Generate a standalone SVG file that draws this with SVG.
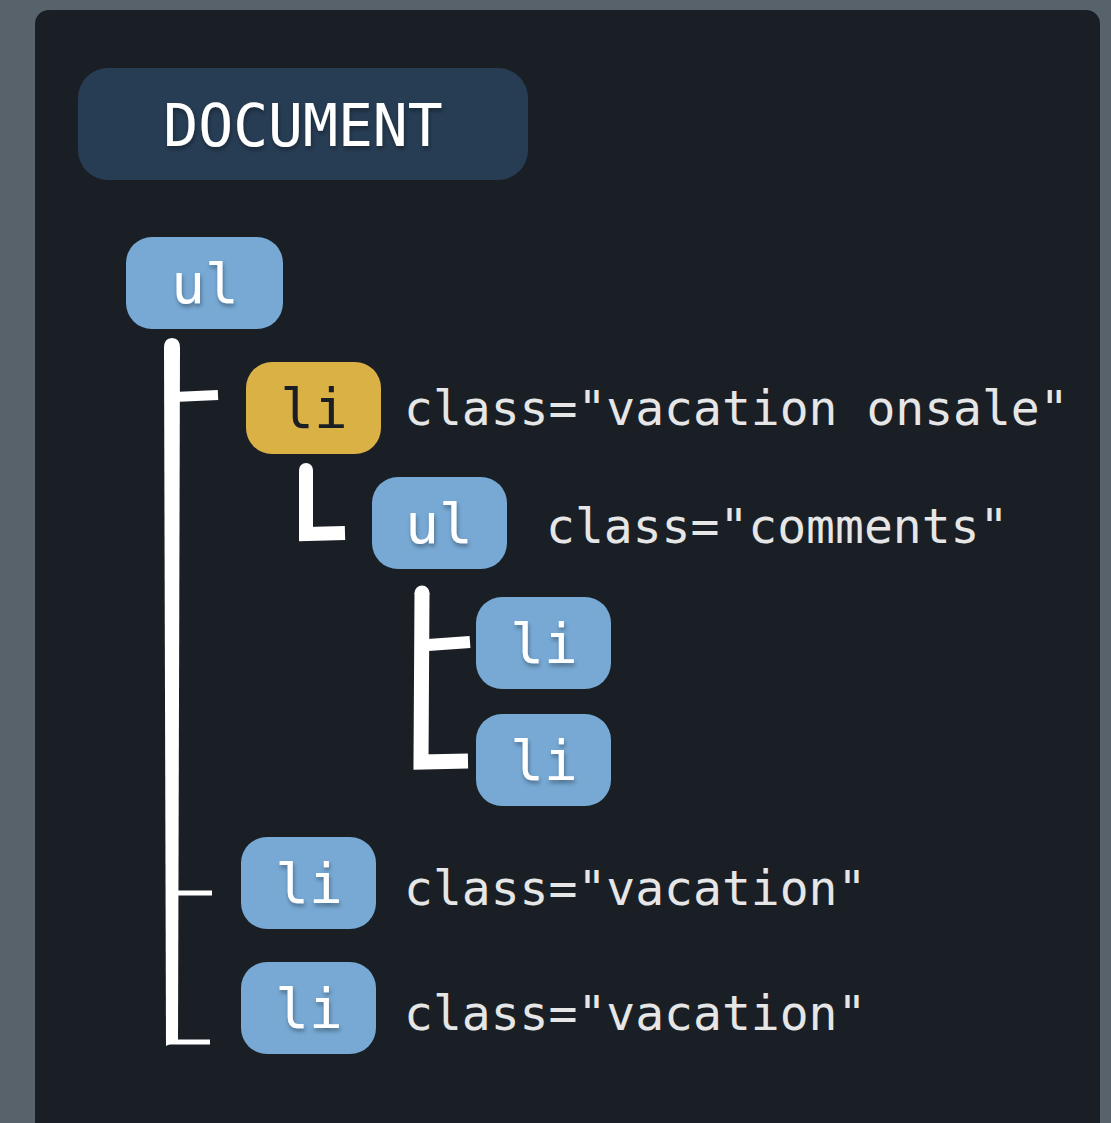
<svg xmlns="http://www.w3.org/2000/svg" width="1111" height="1123" viewBox="0 0 1111 1123">
<defs>
<style>
.node-blue{fill:#77a9d4}
.node-gold{fill:#d9b144}
.lbl{font-family:"DejaVu Sans Mono","Liberation Mono",monospace;font-size:56px;fill:#ffffff;text-anchor:middle}
.attr{font-family:"DejaVu Sans Mono","Liberation Mono",monospace;font-size:48px;fill:#e6e6e6}
.brush{fill:none;stroke:#ffffff;stroke-linecap:butt;stroke-linejoin:miter}
.cap{fill:#ffffff}
</style>
<filter id="ts" x="-20%" y="-20%" width="140%" height="150%">
<feDropShadow dx="1" dy="3" stdDeviation="2" flood-color="#000" flood-opacity="0.35"/>
</filter>
</defs>
<rect x="0" y="0" width="1111" height="1123" fill="#58626b"/>
<rect x="35" y="10" width="1065" height="1140" rx="14" fill="#1a1f26"/>

<g id="connectors">
<path class="cap" d="M164,348 Q164,338 172,338 Q180,338 180,348 L179,700 L178,1040 L166,1046 L165,700 Z"/>
<path class="brush" d="M174,397 L218,395" stroke-width="10"/>
<path class="brush" d="M174,893 L212,893" stroke-width="5"/>
<path class="brush" d="M167,1042 L210,1042" stroke-width="5"/>
<path class="brush" d="M306,470 L306,534 L345,533" stroke-width="14"/>
<circle class="cap" cx="306" cy="470" r="7"/>
<path class="brush" d="M422,593 L421,762 L468,761" stroke-width="15"/>
<circle class="cap" cx="422" cy="593" r="7.5"/>
<path class="brush" d="M428,645 L470,642" stroke-width="12"/>
</g>

<g id="document">
<rect x="78" y="68" width="450" height="112" rx="30" fill="#273d54"/>
<text class="lbl" x="303" y="146" style="font-size:58px" filter="url(#ts)">DOCUMENT</text>
</g>

<g id="ul-root">
<rect class="node-blue" x="126" y="237" width="157" height="92" rx="26"/>
<text class="lbl" x="205" y="303" filter="url(#ts)">ul</text>
</g>

<g id="li-onsale">
<rect class="node-gold" x="246" y="362" width="135" height="92" rx="26"/>
<text class="lbl" x="314" y="428" style="fill:#1a1f26">li</text>
<text class="attr" x="404" y="425">class="vacation onsale"</text>
</g>

<g id="ul-comments">
<rect class="node-blue" x="372" y="477" width="135" height="92" rx="26"/>
<text class="lbl" x="439" y="543" filter="url(#ts)">ul</text>
<text class="attr" x="546" y="543">class="comments"</text>
</g>

<g id="li-comment-1">
<rect class="node-blue" x="476" y="597" width="135" height="92" rx="26"/>
<text class="lbl" x="544" y="663" filter="url(#ts)">li</text>
</g>

<g id="li-comment-2">
<rect class="node-blue" x="476" y="714" width="135" height="92" rx="26"/>
<text class="lbl" x="544" y="780" filter="url(#ts)">li</text>
</g>

<g id="li-vacation-1">
<rect class="node-blue" x="241" y="837" width="135" height="92" rx="26"/>
<text class="lbl" x="309" y="903" filter="url(#ts)">li</text>
<text class="attr" x="404" y="905">class="vacation"</text>
</g>

<g id="li-vacation-2">
<rect class="node-blue" x="241" y="962" width="135" height="92" rx="26"/>
<text class="lbl" x="309" y="1028" filter="url(#ts)">li</text>
<text class="attr" x="404" y="1030">class="vacation"</text>
</g>
</svg>
